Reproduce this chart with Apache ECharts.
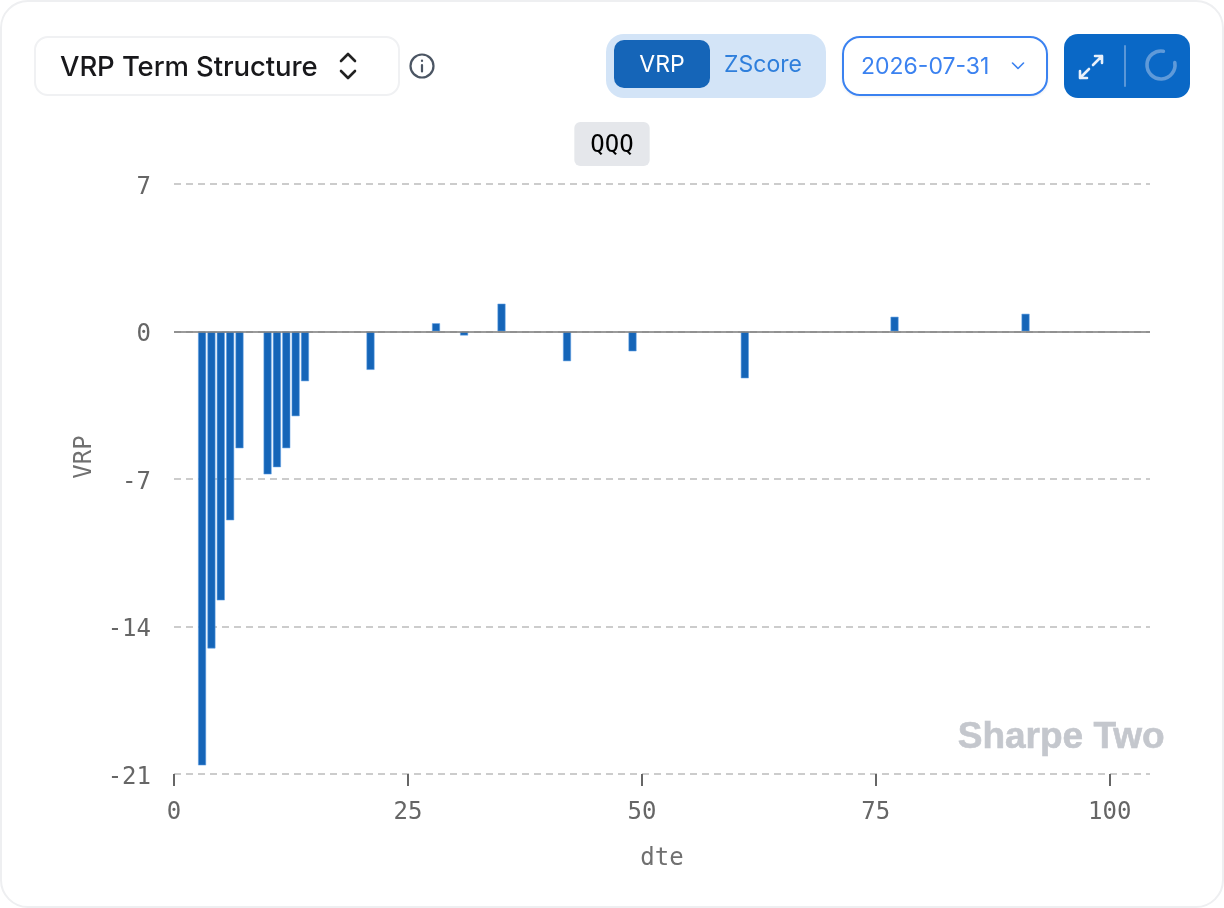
<!DOCTYPE html>
<html><head><meta charset="utf-8">
<script src="https://cdn.jsdelivr.net/npm/echarts@6/dist/echarts.min.js"></script>
<style>
html,body{margin:0;padding:0;background:#fff;width:1224px;height:908px;overflow:hidden;font-family:Inter,sans-serif}
#card{position:absolute;left:0;top:0;width:1224px;height:908px;box-sizing:border-box;border:2px solid #eeeff1;border-radius:28px}
#chart{position:absolute;left:0;top:0;width:1224px;height:908px}
.ui{position:absolute;box-sizing:border-box;display:flex;align-items:center;justify-content:center}
#sel{left:34px;top:36px;width:366px;height:60px;border:2px solid #f0f1f3;border-radius:14px;font-size:27.5px;font-weight:500;color:#18181b;justify-content:flex-start;padding-left:24px;letter-spacing:-.1px}
#seg{left:606px;top:34px;width:220px;height:64px;background:#d3e4f7;border-radius:18px}
#vrp{left:614px;top:40px;width:96px;height:48px;background:#1565b8;border-radius:10px;color:#fff;font-size:23px}
#zs{left:710px;top:40px;width:106px;height:48px;color:#2f7fdc;font-size:23px}
#date{left:842px;top:36px;width:206px;height:60px;border:2px solid #3b82f0;border-radius:18px;color:#3b82f0;font-size:23px;justify-content:flex-start;padding-left:17px;box-shadow:0 1px 3px rgba(0,0,0,.08)}
#btn{left:1064px;top:34px;width:126px;height:64px;background:#0a68c6;border-radius:14px}
</style></head><body>
<div id="chart"></div>
<div id="card"></div>
<div class="ui" id="sel">VRP Term Structure</div>
<svg class="ui" style="left:336px;top:50px" width="24" height="32" viewBox="0 0 24 32" fill="none" stroke="#222" stroke-width="2.6" stroke-linecap="round" stroke-linejoin="round"><path d="M5 11l7-7 7 7M5 21l7 7 7-7"/></svg>
<svg class="ui" style="left:408px;top:52px" width="28" height="28" viewBox="0 0 28 28" fill="none" stroke="#4b5563" stroke-width="2.2" stroke-linecap="round"><circle cx="14" cy="14" r="11.5"/><path d="M14 13v6.5"/><path d="M14 8.6v.3"/></svg>
<div class="ui" id="seg"></div>
<div class="ui" id="vrp">VRP</div>
<div class="ui" id="zs">ZScore</div>
<div class="ui" id="date">2026-07-31</div>
<svg class="ui" style="left:1009px;top:59px" width="18" height="14" viewBox="0 0 18 14" fill="none" stroke="#3b82f0" stroke-width="1.6" stroke-linecap="round" stroke-linejoin="round"><path d="M3.5 4l5.5 5.5 5.5-5.5"/></svg>
<div class="ui" id="btn"></div>
<svg class="ui" style="left:1064px;top:34px" width="126" height="64" viewBox="0 0 126 64" fill="none" stroke-linecap="round" stroke-linejoin="round"><g stroke="#e8f0fa" stroke-width="2.6"><path d="M16 44l9-9M16 37v7h7M38 22l-9 9M31 22h7v7" /></g><path d="M61 12v40" stroke="#5a97d8" stroke-width="2"/><path d="M99.4 17.2A14 14 0 1 0 110.8 28.6" stroke="#5f9ad9" stroke-width="3.6" fill="none"/></svg>
<script>
const dte = [3,4,5,6,7,10,11,12,13,14,21,28,31,35,42,49,61,77,91];
const vrp = [-20.6,-15.05,-12.77,-8.97,-5.55,-6.79,-6.45,-5.55,-4.03,-2.37,-1.83,0.4,-0.2,1.33,-1.42,-0.95,-2.23,0.71,0.85];
const chart = echarts.init(document.getElementById('chart'),null,{renderer:'canvas'});
const mono = '"DejaVu Sans Mono", monospace';
chart.setOption({
  animation:false,
  title:{text:'QQQ',left:'center',top:122,padding:[12,16,8,16],backgroundColor:'#e5e7eb',borderRadius:6,
    textStyle:{fontFamily:mono,fontSize:24,fontWeight:500,color:'#000',lineHeight:24}},
  graphic:[{type:'text',right:59,top:719,z:0,style:{text:'Sharpe Two',fontFamily:'"Liberation Sans", sans-serif',fontSize:37,fontWeight:700,fill:'#c4c7cd',stroke:'#c4c7cd',lineWidth:0.6}}],
  grid:{left:174,right:74,top:184,bottom:134},
  xAxis:{type:'value',min:0,max:104.3,interval:25,name:'dte',nameLocation:'middle',nameGap:73,
    nameTextStyle:{fontFamily:mono,fontSize:24,color:'#707070'},
    axisLine:{show:false,onZero:false},axisTick:{show:true,length:12,lineStyle:{color:'#666',width:2}},
    axisLabel:{fontFamily:mono,fontSize:24,color:'#666',margin:27,showMaxLabel:false},splitLine:{show:false}},
  yAxis:{type:'value',min:-21,max:7,interval:7,name:'VRP',nameLocation:'middle',nameGap:74,
    nameTextStyle:{fontFamily:mono,fontSize:24,color:'#707070',padding:[0,0,0,44]},
    axisLine:{show:false},axisTick:{show:false},
    axisLabel:{margin:23,formatter:v=>'{a|'+v+'}',
      rich:{a:{fontFamily:mono,fontSize:24,color:'#666',padding:[7,0,0,0]}}},
    splitLine:{show:true,lineStyle:{type:[7,5],color:'#ccc',width:2}}},
  series:[{type:'bar',barWidth:8.4,data:dte.map((d,i)=>[d,vrp[i]]),
    itemStyle:{color:'#1565b8',borderColor:'rgba(96,160,230,.55)',borderWidth:1},
    markLine:{silent:true,symbol:'none',label:{show:false},z:5,
      lineStyle:{color:'rgba(130,130,130,.8)',width:2,type:'solid'},data:[{yAxis:0}]}}]
});
</script>
</body></html>
